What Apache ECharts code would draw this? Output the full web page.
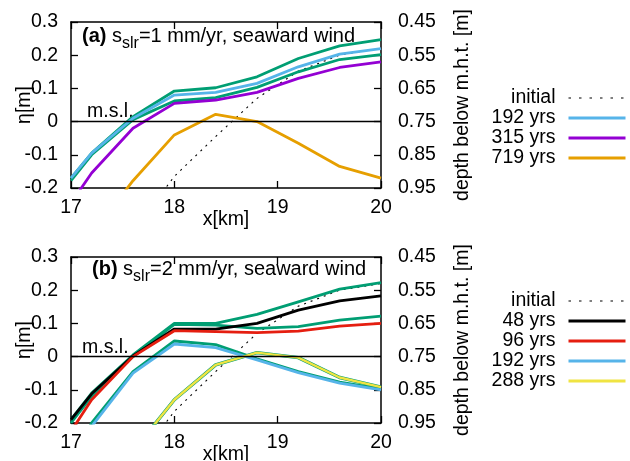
<!DOCTYPE html>
<html>
<head>
<meta charset="utf-8">
<script src="https://cdn.jsdelivr.net/npm/echarts@6/dist/echarts.min.js"></script>
<style>
  html, body { margin: 0; padding: 0; background: #fff; }
  #chart { width: 630px; height: 461px; }
</style>
</head>
<body>
<div id="chart"></div>
<script>
// Cross-shore positions of the profile nodes [km]
const xKm = [17.0, 17.2, 17.6, 18.0, 18.4, 18.8, 19.2, 19.6, 20.0];

// Tick labels
const xTickLabels = ['17', '18', '19', '20'];
const etaTickLabels = ['-0.2', '-0.1', '0', '0.1', '0.2', '0.3'];
const depthTickLabels = ['0.95', '0.85', '0.75', '0.65', '0.55', '0.45'];

// Initial bed level, shared by both panels [m]
const initialEta = [null, null, -0.33, -0.165, -0.045, 0.07, 0.152, 0.2, 0.22];

// (a) s_slr = 1 mm/yr
const a_greenUpper = [-0.17, -0.095, 0.015, 0.092, 0.102, 0.135, 0.19, 0.228, 0.247];
const a_greenLower = [-0.178, -0.1, 0.006, 0.062, 0.072, 0.103, 0.15, 0.187, 0.202];
const a_yr192 = [-0.17, -0.095, 0.01, 0.08, 0.088, 0.115, 0.165, 0.203, 0.22];
const a_yr315 = [-0.245, -0.155, -0.02, 0.055, 0.065, 0.088, 0.13, 0.163, 0.18];
const a_yr719 = [null, -0.34, -0.178, -0.04, 0.022, 0.0, -0.065, -0.135, -0.17];

// (b) s_slr = 2 mm/yr
const b_greenUpper = [-0.19, -0.11, 0.005, 0.1, 0.1, 0.127, 0.165, 0.203, 0.223];
const b_greenMid = [-0.2, -0.12, 0.0, 0.097, 0.095, 0.085, 0.09, 0.11, 0.122];
const b_greenLow = [-0.31, -0.2, -0.045, 0.047, 0.036, -0.007, -0.045, -0.077, -0.097];
const b_greenEnd = [null, null, -0.285, -0.13, -0.025, 0.012, -0.003, -0.063, -0.092];
const b_yr48 = [-0.19, -0.112, 0.002, 0.083, 0.083, 0.1, 0.14, 0.168, 0.183];
const b_yr96 = [-0.225, -0.13, 0.0, 0.078, 0.075, 0.072, 0.077, 0.092, 0.1];
const b_yr192 = [-0.32, -0.21, -0.05, 0.038, 0.027, -0.01, -0.048, -0.08, -0.1];
const b_yr288 = [null, null, -0.285, -0.13, -0.025, 0.012, -0.003, -0.063, -0.092];

const legendA = ['initial', '192 yrs', '315 yrs', '719 yrs'];
const legendB = ['initial', '48 yrs', '96 yrs', '192 yrs', '288 yrs'];

const FONT = '"Liberation Sans", Arial, Helvetica, sans-serif';
const COL = {
  green: '#009e73', blue: '#56b4e9', purple: '#9400d3', orange: '#e69f00',
  black: '#000000', red: '#e51e10', yellow: '#f0e442'
};

function pts(ys) {
  return xKm.map((x, i) => [x, ys[i]]).filter(p => p[1] !== null);
}

function tickIndex(v, min, step) {
  return Math.round((v - min) / step);
}

const lineAxis = { show: true, onZero: false, lineStyle: { color: '#000', width: 1.5 } };
const innerTick = { show: true, inside: true, length: 7, lineStyle: { color: '#000', width: 1.3 } };
const labelFont = { fontSize: 19.5, fontFamily: FONT, color: '#000' };

function xAxes(g) {
  return [
    {
      type: 'value', gridIndex: g, min: 17, max: 20, interval: 1, position: 'bottom',
      name: 'x[km]', nameLocation: 'middle', nameGap: 22, nameMoveOverlap: false,
      nameTextStyle: Object.assign({ verticalAlign: 'top' }, labelFont),
      axisLine: lineAxis, axisTick: innerTick, splitLine: { show: false },
      axisLabel: Object.assign({ margin: 10, formatter: v => xTickLabels[tickIndex(v, 17, 1)] }, labelFont)
    },
    {
      type: 'value', gridIndex: g, min: 17, max: 20, interval: 1, position: 'top',
      axisLine: lineAxis, axisTick: innerTick, splitLine: { show: false },
      axisLabel: { show: false }
    }
  ];
}

function yAxes(g) {
  return [
    {
      type: 'value', gridIndex: g, min: -0.2, max: 0.3, interval: 0.1, position: 'left',
      name: 'η[m]', nameLocation: 'middle', nameRotate: 90, nameGap: 36, nameMoveOverlap: false,
      nameTextStyle: labelFont,
      axisLine: lineAxis, axisTick: innerTick, splitLine: { show: false },
      axisLabel: Object.assign({ margin: 13, formatter: v => etaTickLabels[tickIndex(v, -0.2, 0.1)] }, labelFont)
    },
    {
      type: 'value', gridIndex: g, min: -0.2, max: 0.3, interval: 0.1, position: 'right',
      name: 'depth below m.h.t. [m]', nameLocation: 'middle', nameRotate: 90, nameGap: 72,
      nameMoveOverlap: false,
      nameTextStyle: labelFont,
      axisLine: lineAxis, axisTick: innerTick, splitLine: { show: false },
      axisLabel: Object.assign({ margin: 17, formatter: v => depthTickLabels[tickIndex(v, -0.2, 0.1)] }, labelFont)
    }
  ];
}

function line(name, ys, color, g, extra) {
  return Object.assign({
    type: 'line', name: name, xAxisIndex: g * 2, yAxisIndex: g * 2,
    data: pts(ys), symbol: 'none', clip: true, animation: false, silent: true,
    lineStyle: { color: color, width: 2.8 }, itemStyle: { color: color }
  }, extra || {});
}

function initialLine(g) {
  return line('initial', initialEta, COL.black, g, {
    lineStyle: { color: '#000', width: 1.1, type: [2, 5] },
    markLine: {
      silent: true, symbol: 'none', label: { show: false }, animation: false,
      lineStyle: { color: '#000', width: 1.3, type: 'solid' },
      data: [{ yAxis: 0 }]
    }
  });
}

function legend(names, top) {
  return {
    data: names.map(n => n === 'initial'
      ? { name: n, lineStyle: { width: 1.1, type: [2.5, 8] } }
      : { name: n, lineStyle: { width: 3 } }),
    orient: 'vertical', align: 'right', right: 3, top: top,
    padding: 0, itemGap: 0, itemWidth: 57, itemHeight: 20, selectedMode: false,
    itemStyle: { opacity: 0, borderWidth: 0 },
    textStyle: Object.assign({ lineHeight: 20, padding: [0, 8, 0, 0] }, labelFont)
  };
}

function panelTitle(tag, rate, left, top) {
  return {
    type: 'text', left: left, top: top, silent: true,
    style: {
      text: '{b|' + tag + '}{n| s}{s|slr}{n|=' + rate + ' mm/yr, seaward wind}',
      rich: {
        b: { fontSize: 20, fontWeight: 'bold', fontFamily: FONT, fill: '#000', lineHeight: 20, verticalAlign: 'top' },
        n: { fontSize: 20, fontFamily: FONT, fill: '#000', lineHeight: 20, verticalAlign: 'top' },
        s: { fontSize: 16, fontFamily: FONT, fill: '#000', padding: [10, 0, 0, 0], verticalAlign: 'bottom' }
      }
    }
  };
}

function mslText(left, top) {
  return {
    type: 'text', left: left, top: top, silent: true,
    style: { text: 'm.s.l.', fontSize: 19.5, fontFamily: FONT, fill: '#000' }
  };
}

const chart = echarts.init(document.getElementById('chart'), null, { renderer: 'canvas' });

chart.setOption({
  animation: false,
  backgroundColor: '#fff',
  grid: [
    { left: 71, top: 22, width: 310, height: 166, outerBoundsMode: 'none' },
    { left: 71, top: 257, width: 310, height: 166, outerBoundsMode: 'none' }
  ],
  xAxis: xAxes(0).concat(xAxes(1)),
  yAxis: yAxes(0).concat(yAxes(1)),
  legend: [legend(legendA, 88), legend(legendB, 291)],
  graphic: [
    panelTitle('(a)', 1, 82, 26),
    panelTitle('(b)', 2, 92, 259),
    mslText(87, 102),
    mslText(82, 338)
  ],
  series: [
    initialLine(0),
    line('a-green-upper', a_greenUpper, COL.green, 0),
    line('a-green-lower', a_greenLower, COL.green, 0),
    line('192 yrs', a_yr192, COL.blue, 0),
    line('315 yrs', a_yr315, COL.purple, 0),
    line('719 yrs', a_yr719, COL.orange, 0),

    initialLine(1),
    line('b-green-upper', b_greenUpper, COL.green, 1),
    line('b-green-mid', b_greenMid, COL.green, 1),
    line('b-green-low', b_greenLow, COL.green, 1),
    line('b-green-end', b_greenEnd, COL.green, 1, { lineStyle: { color: COL.green, width: 3.4 } }),
    line('48 yrs', b_yr48, COL.black, 1),
    line('96 yrs', b_yr96, COL.red, 1),
    line('192 yrs', b_yr192, COL.blue, 1),
    line('288 yrs', b_yr288, COL.yellow, 1, { lineStyle: { color: COL.yellow, width: 2.4 } })
  ]
});
</script>
</body>
</html>
